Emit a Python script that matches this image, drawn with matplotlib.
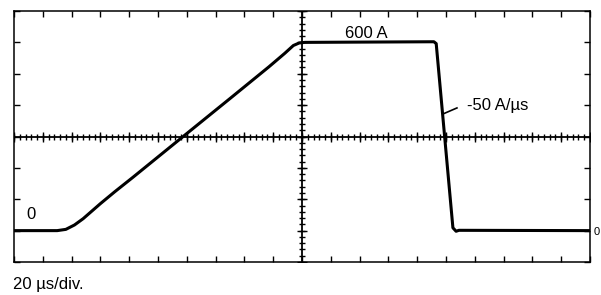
"""Oscilloscope capture: current ramp up to 600 A, hold, then fast fall."""

import numpy as np
import matplotlib
matplotlib.use("Agg")
import matplotlib.pyplot as plt

# trace: time in us (20 us/div), current in A (100 A/div)
time_us = [0.0, 15.0, 18.0, 21.0, 24.0, 27.0, 30.0, 35.0, 41.3, 53.1, 59.0,
           75.0, 88.5, 94.0, 97.0, 99.0, 101.0, 145.8, 146.6, 152.4, 153.5,
           154.5, 200.0]
current_a = [0, 0, 4, 18, 38, 62, 86, 124, 170, 258, 302,
             421, 522, 565, 590, 598, 600, 602, 596, 9, -2,
             1, 0]

x_range = (0, 200)
y_range = (-100, 700)
peak_label = "600 A"
slope_label = "-50 A/µs"
zero_label = "0"
timebase_label = "20 µs/div."

plt.rcParams["font.family"] = ["Liberation Sans", "DejaVu Sans"]

fig = plt.figure(figsize=(6.01, 2.95), dpi=100)

ax = fig.add_axes([14 / 601, 33 / 295, 576 / 601, 251 / 295])
ax.set_xlim(*x_range)
ax.set_ylim(*y_range)

for s in ax.spines.values():
    s.set_linewidth(1.1)
    s.set_color("black")

# edge ticks: one per half division, pointing inward
ax.set_xticks(np.arange(x_range[0], x_range[1] + 1, 10))
ax.set_yticks(np.arange(y_range[0], y_range[1] + 1, 100))
ax.tick_params(direction="in", length=4, width=1, top=True, right=True,
               labelbottom=False, labelleft=False)

# centre graticule lines with their fine ticks
xc = sum(x_range) / 2
yc = sum(y_range) / 2
ax.axhline(yc, color="black", lw=1.3, zorder=2)
ax.axvline(xc, color="black", lw=1.3, zorder=2)
ax.plot(np.arange(0, 201, 10), [yc] * 21, ls="none", marker="|", ms=7,
        mew=1, color="black", zorder=2)
ax.plot(np.arange(0, 201, 2), [yc] * 101, ls="none", marker="|", ms=4,
        mew=1, color="black", zorder=2)
ax.plot([xc] * 9, np.arange(-100, 701, 100), ls="none", marker="_", ms=7,
        mew=1, color="black", zorder=2)
ax.plot([xc] * 41, np.arange(-100, 701, 20), ls="none", marker="_", ms=4,
        mew=1, color="black", zorder=2)

ax.plot(time_us, current_a, color="black", lw=2.2, solid_joinstyle="round",
        zorder=3)

ax.text(114.9, 615, peak_label, fontsize=12, ha="left", va="baseline")
ax.text(157.3, 386, slope_label, fontsize=12, ha="left", va="baseline")
ax.plot([149.0, 153.8], [372, 391], color="black", lw=1.2)
ax.text(4.2, 37, zero_label, fontsize=12, ha="left", va="baseline")

fig.text(13 / 601, 6 / 295, timebase_label, fontsize=12, ha="left",
         va="baseline")
fig.text(594 / 601, 60 / 295, zero_label, fontsize=8, ha="left",
         va="baseline")

fig.savefig("out.png", dpi=100)
